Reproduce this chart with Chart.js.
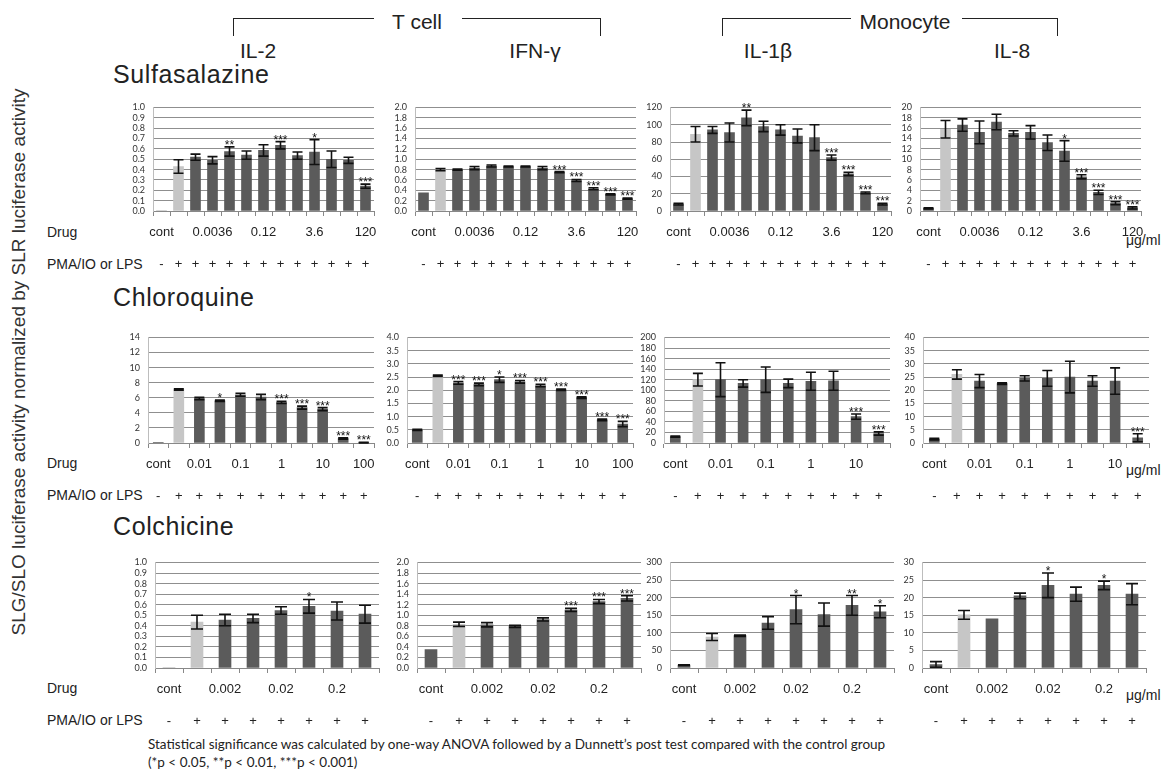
<!DOCTYPE html>
<html>
<head>
<meta charset="utf-8">
<script src="https://cdn.jsdelivr.net/npm/chart.js@4.4.1/dist/chart.umd.min.js"></script>
<style>
  body { margin: 0; background: #fff; width: 1161px; height: 771px; position: relative; overflow: hidden;
         font-family: 'Liberation Sans', Arial, sans-serif; color: #222; }
  .t { position: absolute; white-space: nowrap; line-height: 1; }
  .hd { font-size: 21px; transform: translateX(-50%); }
  .drug { font-size: 25px; left: 113px; letter-spacing: 0.6px; }
  .lab { font-size: 14px; left: 47px; }
  .unit { font-size: 14px; left: 1126px; }
  .br { position: absolute; border: 0 solid #222; border-top-width: 1.5px; height: 17px; }
  canvas { position: absolute; }
</style>
</head>
<body>

<div class="t" style="left:18px;top:362px;font-size:19px;color:#333;transform:translate(-50%,-50%) rotate(-90deg);">SLG/SLO luciferase activity normalized by SLR luciferase activity</div>

<div class="br" style="left:233px;top:18px;width:140px;border-left-width:1.5px;"></div>
<div class="br" style="left:462px;top:18px;width:138px;border-right-width:1.5px;"></div>
<div class="t hd" style="left:417px;top:11px;">T cell</div>
<div class="br" style="left:722px;top:18px;width:128px;border-left-width:1.5px;"></div>
<div class="br" style="left:962px;top:18px;width:95px;border-right-width:1.5px;"></div>
<div class="t hd" style="left:905px;top:11px;">Monocyte</div>

<div class="t hd" style="left:258px;top:40px;">IL-2</div>
<div class="t hd" style="left:535px;top:40px;">IFN-γ</div>
<div class="t hd" style="left:768px;top:40px;">IL-1β</div>
<div class="t hd" style="left:1012px;top:40px;">IL-8</div>

<div class="t drug" style="top:62px;">Sulfasalazine</div>
<div class="t drug" style="top:285px;">Chloroquine</div>
<div class="t drug" style="top:514px;">Colchicine</div>

<div class="t lab" style="top:225px;">Drug</div>
<div class="t lab" style="top:257px;">PMA/IO or LPS</div>
<div class="t lab" style="top:456px;">Drug</div>
<div class="t lab" style="top:488px;">PMA/IO or LPS</div>
<div class="t lab" style="top:681px;">Drug</div>
<div class="t lab" style="top:713px;">PMA/IO or LPS</div>

<div class="t unit" style="top:233px;">μg/ml</div>
<div class="t unit" style="top:463px;">μg/ml</div>
<div class="t unit" style="top:688px;">μg/ml</div>

<div class="t" style="left:148px;top:738px;font-size:13.5px;font-family:Lato,sans-serif;">Statistical significance was calculated by one-way ANOVA followed by a Dunnett’s post test compared with the control group</div>
<div class="t" style="left:148px;top:756px;font-size:13.5px;font-family:Lato,sans-serif;">(*p &lt; 0.05, **p &lt; 0.01, ***p &lt; 0.001)</div>

<script>
// ---- Sulfasalazine (13 groups) ----
const sulfaDrug = ['cont', '', '', '0.0036', '', '', '0.12', '', '', '3.6', '', '', '120'];
const sulfaStim = ['-', '+', '+', '+', '+', '+', '+', '+', '+', '+', '+', '+', '+'];

const sulfaIL2 = [0, 0.43, 0.52, 0.49, 0.575, 0.54, 0.585, 0.635, 0.535, 0.57, 0.50, 0.49, 0.24];
const sulfaIL2Err = [0, 0.065, 0.03, 0.035, 0.045, 0.04, 0.055, 0.035, 0.035, 0.12, 0.08, 0.03, 0.02];
const sulfaIL2Sig = ['', '', '', '', '**', '', '', '***', '', '*', '', '', '***'];

const sulfaIFN = [0.35, 0.80, 0.80, 0.83, 0.87, 0.86, 0.86, 0.83, 0.75, 0.59, 0.43, 0.32, 0.24];
const sulfaIFNErr = [0, 0.02, 0.01, 0.03, 0.02, 0.01, 0.01, 0.03, 0.01, 0.02, 0.02, 0.01, 0.01];
const sulfaIFNSig = ['', '', '', '', '', '', '', '', '***', '***', '***', '***', '***'];

const sulfaIL1 = [8, 89, 94, 91, 108, 98, 94, 87, 85, 62, 43, 21, 8];
const sulfaIL1Err = [1, 9, 4, 11, 9, 6, 6, 8, 15, 3, 2, 1, 1];
const sulfaIL1Sig = ['', '', '', '', '**', '', '', '', '', '***', '***', '***', '***'];

const sulfaIL8 = [0.5, 15.8, 16.6, 15.2, 17.2, 15.0, 15.2, 13.2, 11.6, 6.6, 3.6, 1.5, 0.6];
const sulfaIL8Err = [0.1, 1.7, 1.2, 2.2, 1.5, 0.5, 1.3, 1.5, 2.0, 0.4, 0.4, 0.3, 0.2];
const sulfaIL8Sig = ['', '', '', '', '', '', '', '', '*', '***', '***', '***', '***'];

// ---- Chloroquine (11 groups for T cell, 10 for monocyte) ----
const chloroDrugT = ['cont', '', '0.01', '', '0.1', '', '1', '', '10', '', '100'];
const chloroStimT = ['-', '+', '+', '+', '+', '+', '+', '+', '+', '+', '+'];
const chloroDrugM = ['cont', '', '0.01', '', '0.1', '', '1', '', '10', ''];
const chloroStimM = ['-', '+', '+', '+', '+', '+', '+', '+', '+', '+'];

const chloroIL2 = [0.08, 7.1, 5.9, 5.6, 6.4, 6.1, 5.4, 4.7, 4.5, 0.6, 0.05];
const chloroIL2Err = [0, 0.1, 0.15, 0.1, 0.2, 0.35, 0.15, 0.2, 0.2, 0.1, 0.03];
const chloroIL2Sig = ['', '', '', '*', '', '', '***', '***', '***', '***', '***'];

const chloroIFN = [0.5, 2.55, 2.28, 2.22, 2.4, 2.32, 2.18, 2.02, 1.72, 0.88, 0.72];
const chloroIFNErr = [0.02, 0.03, 0.05, 0.05, 0.1, 0.05, 0.05, 0.03, 0.03, 0.03, 0.1];
const chloroIFNSig = ['', '', '***', '***', '*', '***', '***', '***', '***', '***', '***'];

const chloroIL1 = [12, 120, 120, 113, 120, 113, 117, 118, 50, 18];
const chloroIL1Err = [1, 12, 32, 7, 24, 8, 17, 18, 5, 3];
const chloroIL1Sig = ['', '', '', '', '', '', '', '', '***', '***'];

const chloroIL8 = [1.5, 26, 23.5, 22.5, 24.5, 24.5, 25, 23.5, 23.5, 2];
const chloroIL8Err = [0.3, 1.8, 2.5, 0.3, 1, 3, 6, 2, 5, 1.5];
const chloroIL8Sig = ['', '', '', '', '', '', '', '', '', '***'];

// ---- Colchicine (8 groups) ----
const colchDrug = ['cont', '', '0.002', '', '0.02', '', '0.2', ''];
const colchStim = ['-', '+', '+', '+', '+', '+', '+', '+'];

const colchIL2 = [0, 0.435, 0.455, 0.47, 0.545, 0.585, 0.54, 0.51];
const colchIL2Err = [0, 0.065, 0.055, 0.04, 0.035, 0.065, 0.085, 0.085];
const colchIL2Sig = ['', '', '', '', '', '*', '', ''];

const colchIFN = [0.35, 0.83, 0.82, 0.79, 0.92, 1.10, 1.26, 1.32];
const colchIFNErr = [0, 0.04, 0.04, 0.02, 0.03, 0.03, 0.04, 0.05];
const colchIFNSig = ['', '', '', '', '', '***', '***', '***'];

const colchIL1 = [8, 88, 92, 128, 166, 152, 178, 160];
const colchIL1Err = [1, 10, 2, 18, 40, 33, 28, 17];
const colchIL1Sig = ['', '', '', '', '*', '', '**', '*'];

const colchIL8 = [1, 15.1, 14, 20.5, 23.5, 21, 23.5, 21];
const colchIL8Err = [0.8, 1.25, 0, 0.8, 3.5, 2, 1.2, 3];
const colchIL8Sig = ['', '', '', '', '*', '', '*', ''];

// ---- layout (pixel boxes of each plot area) ----
const rows = [
  { top: 103, height: 108, lefts: [153, 415, 670, 920], width: 221, bar: 10, cap: 5 },
  { top: 333, height: 110, lefts: [148, 407, 664, 923], width: 226, bar: 10, cap: 5 },
  { top: 558, height: 110, lefts: [155, 417, 670, 922], width: 224, bar: 12, cap: 6 }
];

const DARK = '#5b5b5b';
const LIGHT = '#c6c6c6';

const errorBars = {
  id: 'errorBars',
  afterDatasetsDraw(chart, args, opts) {
    const ctx = chart.ctx;
    const y = chart.scales.y;
    const ds = chart.data.datasets[0];
    const meta = chart.getDatasetMeta(0);
    ctx.save();
    ctx.strokeStyle = '#111';
    ctx.fillStyle = '#111';
    ctx.lineWidth = 1.6;
    ctx.font = '12px "Liberation Sans", Arial';
    ctx.textAlign = 'center';
    ctx.textBaseline = 'alphabetic';
    meta.data.forEach((bar, i) => {
      const v = ds.data[i];
      const e = ds.err[i];
      let top = y.getPixelForValue(v);
      if (e > 0) {
        top = y.getPixelForValue(v + e);
        const bot = y.getPixelForValue(Math.max(0, v - e));
        ctx.beginPath();
        ctx.moveTo(bar.x, top); ctx.lineTo(bar.x, bot);
        ctx.moveTo(bar.x - opts.cap, top); ctx.lineTo(bar.x + opts.cap, top);
        ctx.moveTo(bar.x - opts.cap, bot); ctx.lineTo(bar.x + opts.cap, bot);
        ctx.stroke();
      }
      if (ds.sig[i]) {
        ctx.fillText(ds.sig[i], bar.x, top + 2);
      }
    });
    ctx.restore();
  }
};

const panels = [
  { row: 0, col: 0, drug: sulfaDrug, stim: sulfaStim, v: sulfaIL2, e: sulfaIL2Err, s: sulfaIL2Sig, max: 1, step: 0.1, dec: 1 },
  { row: 0, col: 1, drug: sulfaDrug, stim: sulfaStim, v: sulfaIFN, e: sulfaIFNErr, s: sulfaIFNSig, max: 2, step: 0.2, dec: 1 },
  { row: 0, col: 2, drug: sulfaDrug, stim: sulfaStim, v: sulfaIL1, e: sulfaIL1Err, s: sulfaIL1Sig, max: 120, step: 20, dec: 0 },
  { row: 0, col: 3, drug: sulfaDrug, stim: sulfaStim, v: sulfaIL8, e: sulfaIL8Err, s: sulfaIL8Sig, max: 20, step: 2, dec: 0 },
  { row: 1, col: 0, drug: chloroDrugT, stim: chloroStimT, v: chloroIL2, e: chloroIL2Err, s: chloroIL2Sig, max: 14, step: 2, dec: 0 },
  { row: 1, col: 1, drug: chloroDrugT, stim: chloroStimT, v: chloroIFN, e: chloroIFNErr, s: chloroIFNSig, max: 4, step: 0.5, dec: 1 },
  { row: 1, col: 2, drug: chloroDrugM, stim: chloroStimM, v: chloroIL1, e: chloroIL1Err, s: chloroIL1Sig, max: 200, step: 20, dec: 0 },
  { row: 1, col: 3, drug: chloroDrugM, stim: chloroStimM, v: chloroIL8, e: chloroIL8Err, s: chloroIL8Sig, max: 40, step: 5, dec: 0 },
  { row: 2, col: 0, drug: colchDrug, stim: colchStim, v: colchIL2, e: colchIL2Err, s: colchIL2Sig, max: 1, step: 0.1, dec: 1 },
  { row: 2, col: 1, drug: colchDrug, stim: colchStim, v: colchIFN, e: colchIFNErr, s: colchIFNSig, max: 2, step: 0.2, dec: 1 },
  { row: 2, col: 2, drug: colchDrug, stim: colchStim, v: colchIL1, e: colchIL1Err, s: colchIL1Sig, max: 300, step: 50, dec: 0 },
  { row: 2, col: 3, drug: colchDrug, stim: colchStim, v: colchIL8, e: colchIL8Err, s: colchIL8Sig, max: 30, step: 5, dec: 0 }
];

const AXW = 40, PADT = 8, PADR = 6, XH = 60;

panels.forEach((p) => {
  const r = rows[p.row];
  const cv = document.createElement('canvas');
  cv.width = r.width + AXW + PADR;
  cv.height = r.height + PADT + XH;
  cv.style.left = (r.lefts[p.col] - AXW) + 'px';
  cv.style.top = (r.top - PADT) + 'px';
  document.body.appendChild(cv);

  new Chart(cv, {
    type: 'bar',
    data: {
      labels: p.drug.map((d, i) => [d, p.stim[i]]),
      datasets: [{
        data: p.v,
        err: p.e,
        sig: p.s,
        backgroundColor: p.v.map((_, i) => i === 1 ? LIGHT : DARK),
        barThickness: r.bar
      }]
    },
    options: {
      animation: false,
      responsive: false,
      layout: { padding: { top: PADT, right: PADR, left: 0, bottom: 0 } },
      plugins: {
        legend: { display: false },
        tooltip: { enabled: false },
        errorBars: { cap: r.cap }
      },
      scales: {
        x: {
          grid: { drawOnChartArea: false, tickLength: 5, color: '#888' },
          border: { color: '#888' },
          ticks: {
            autoSkip: false, maxRotation: 0, padding: 0, color: '#222',
            font: { family: 'Liberation Sans', size: 13, lineHeight: '32px' }
          },
          afterFit: (s) => { s.height = XH; }
        },
        y: {
          min: 0,
          max: p.max,
          ticks: {
            stepSize: p.step, padding: 8, color: '#333', autoSkip: false,
            font: { family: 'Lato', size: 9, lineHeight: 1 },
            callback: (v) => Number(v).toFixed(p.dec)
          },
          grid: { color: '#8f8f8f', drawTicks: false },
          border: { color: '#bdbdbd' },
          afterFit: (s) => { s.width = AXW; }
        }
      }
    },
    plugins: [errorBars]
  });
});
</script>
</body>
</html>
